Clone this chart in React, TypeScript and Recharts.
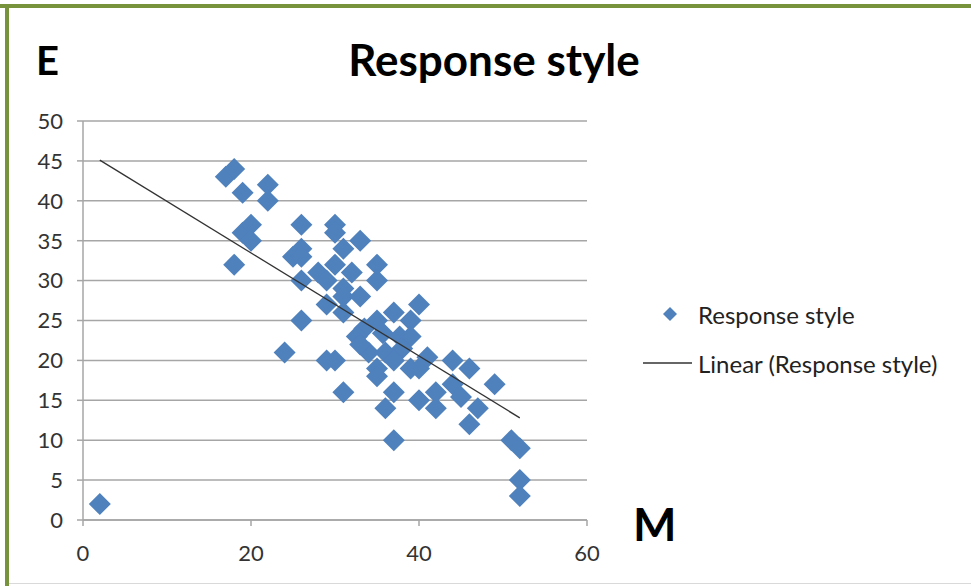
import React from 'react';
import { ScatterChart, Scatter, XAxis, YAxis, CartesianGrid } from 'recharts';

const mValues = [2, 17, 18, 19, 22, 22, 18, 19, 20, 20, 26, 26, 25, 26, 26, 26, 24, 30, 30, 33, 31, 28, 30, 32, 35, 35, 29, 31, 31, 33, 29, 31, 35, 37, 40, 39, 33.5, 32.6, 35.7, 37.7, 39, 34, 36, 38, 33, 29, 30, 35, 35, 37, 39, 40, 41, 44, 46, 31, 37, 36, 40, 42, 42, 44, 45, 46, 47, 49, 37, 51, 52, 52, 52];
const eValues = [2, 43, 44, 41, 42, 40, 32, 36, 37, 35, 37, 34, 33, 33, 30, 25, 21, 37, 36, 35, 34, 31, 32, 31, 32, 30, 30, 29, 28, 28, 27, 26, 25, 26, 27, 25, 24, 23, 23.4, 23, 23, 21, 21, 21.5, 22, 20, 20, 19, 18, 20, 19, 19, 20.4, 20, 19, 16, 16, 14, 15, 16, 14, 17, 15.4, 12, 14, 17, 10, 10, 9, 5, 3];
const trendM = [2, 52];
const trendE = [45.1, 12.8];
const xTicks = [0, 20, 40, 60];
const yTicks = [0, 5, 10, 15, 20, 25, 30, 35, 40, 45, 50];

const points = mValues.map((m, i) => ({ x: m, y: eValues[i] }));
const trend = trendM.map((m, i) => ({ x: m, y: trendE[i] }));

const BLUE = '#4F81BD';
const GRID = '#A6A6A6';
const FONT = 'Lato, "Open Sans", sans-serif';

const Diamond = (props: any) => {
  const { cx, cy } = props;
  if (cx == null || cy == null) return null;
  const r = 11;
  return <polygon points={`${cx},${cy - r} ${cx + r},${cy} ${cx},${cy + r} ${cx - r},${cy}`} fill={BLUE} />;
};

const NoShape = () => null;

export default function App() {
  return (
    <div style={{ position: 'absolute', left: 0, top: 0, width: 971, height: 586, background: '#fff', overflow: 'hidden', fontFamily: FONT }}>
      <ScatterChart width={971} height={586} margin={{ top: 121, right: 384, bottom: 26, left: 23 }}>
        <CartesianGrid horizontal vertical={false} stroke={GRID} strokeWidth={1.5} />
        <XAxis
          type="number"
          dataKey="x"
          domain={[0, 60]}
          ticks={xTicks}
          height={40}
          tickSize={6}
          tickMargin={19}
          axisLine={{ stroke: GRID, strokeWidth: 1.5 }}
          tickLine={{ stroke: GRID, strokeWidth: 1.5 }}
          tick={{ fill: '#333', fontSize: 22, fontFamily: FONT }}
        />
        <YAxis
          type="number"
          dataKey="y"
          domain={[0, 50]}
          ticks={yTicks}
          width={60}
          tickSize={6}
          tickMargin={14}
          axisLine={{ stroke: GRID, strokeWidth: 1.5 }}
          tickLine={{ stroke: GRID, strokeWidth: 1.5 }}
          tick={{ fill: '#333', fontSize: 22, fontFamily: FONT }}
        />
        <Scatter name="Response style" data={points} shape={<Diamond />} isAnimationActive={false} />
        <Scatter
          name="Linear (Response style)"
          data={trend}
          line={{ stroke: '#333', strokeWidth: 1.3 }}
          shape={<NoShape />}
          isAnimationActive={false}
        />
      </ScatterChart>

      <div style={{ position: 'absolute', left: 0, top: 33, width: 988, textAlign: 'center', fontSize: 44, fontWeight: 700, color: '#000', pointerEvents: 'none' }}>
        Response style
      </div>
      <div style={{ position: 'absolute', left: 36, top: 36, fontSize: 40, fontWeight: 700, color: '#000' }}>E</div>
      <div style={{ position: 'absolute', left: 633, top: 496, fontSize: 46, fontWeight: 700, color: '#000' }}>M</div>

      <div style={{ position: 'absolute', left: 640, top: 299, fontSize: 24, color: '#222' }}>
        <div style={{ display: 'flex', alignItems: 'center', height: 30 }}>
          <svg width={58} height={30}>
            <polygon points="30,8 37,15 30,22 23,15" fill={BLUE} />
          </svg>
          <span>Response style</span>
        </div>
        <div style={{ display: 'flex', alignItems: 'center', height: 30, marginTop: 19 }}>
          <svg width={58} height={30}>
            <line x1={3} y1={15} x2={52} y2={15} stroke="#333" strokeWidth={1.3} />
          </svg>
          <span>Linear (Response style)</span>
        </div>
      </div>

      <div style={{ position: 'absolute', left: 0, top: 4, width: 971, height: 4, background: '#77933C' }} />
      <div style={{ position: 'absolute', left: 5, top: 4, width: 4, height: 582, background: '#77933C' }} />
      <div style={{ position: 'absolute', left: 9, top: 583, width: 962, height: 1, background: '#D9D9D9' }} />
    </div>
  );
}
